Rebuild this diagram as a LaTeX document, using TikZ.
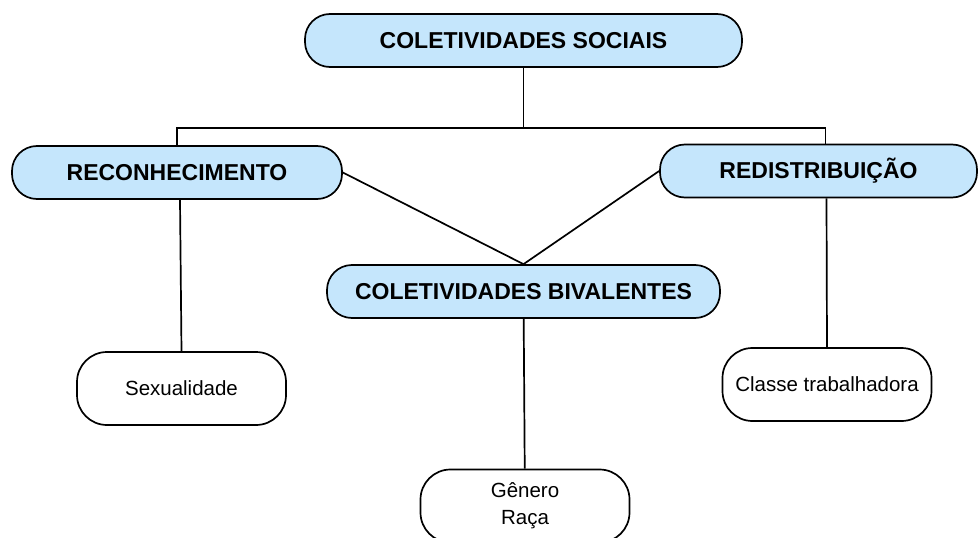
\documentclass[tikz,border=0pt]{standalone}
\usepackage{fontspec}
\setmainfont{Liberation Sans}
\definecolor{paleblue}{RGB}{197,230,252}
\begin{document}
\begin{tikzpicture}[x=1pt, y=-1pt, line width=1.7pt,
    main/.style = {draw, fill=paleblue, rectangle, rounded corners=25pt, minimum height=53pt, inner sep=0pt, font=\fontsize{23}{26}\selectfont\bfseries},
    leaf/.style = {draw, fill=white, rectangle, rounded corners=30pt, minimum width=209pt, minimum height=73pt, inner sep=0pt, align=center, font=\fontsize{20.5}{27}\selectfont}]
    \useasboundingbox[fill=white] (0,0) rectangle (978,538);
    \node[main, minimum width=437pt] (soc) at (523.5,40.5) {COLETIVIDADES SOCIAIS};
    \node[main, minimum width=330pt] (rec) at (177,172.5) {RECONHECIMENTO};
    \node[main, minimum width=317pt] (red) at (818.5,171) {REDISTRIBUIÇÃO};
    \node[main, minimum width=393pt] (biv) at (523.5,291.5) {COLETIVIDADES BIVALENTES};
    \node[leaf] (sex) at (181.5,388.5) {Sexualidade};
    \node[leaf] (cla) at (827,384.5) {Classe trabalhadora};
    \node[leaf] (gen) at (525,506) {Gênero\\Raça};
    \coordinate (bar) at (523.5,128);
    \draw (soc) -- (bar);
    \draw (rec.north) |- (bar) -| ([xshift=7pt]red.north);
    \draw (rec.east) -- (biv.north);
    \draw (red.west) -- (biv.north);
    \draw ([xshift=3pt]rec.south) -- (sex.north);
    \draw ([xshift=8pt]red.south) -- (cla.north);
    \draw (biv) -- (gen);
\end{tikzpicture}
\end{document}
